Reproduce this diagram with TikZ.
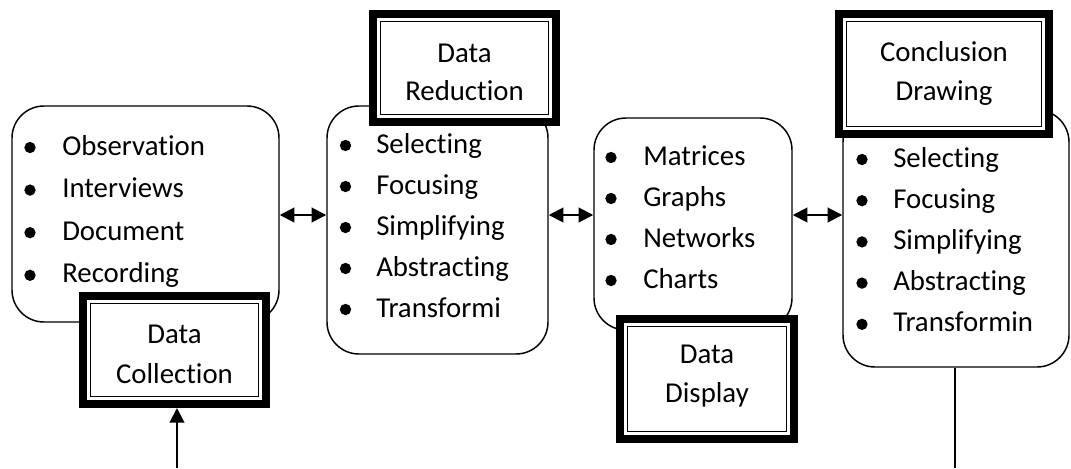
\documentclass[tikz,border=0pt]{standalone}
\usepackage{fontspec}
\setmainfont{Carlito}[Ligatures=NoCommon]
\usetikzlibrary{arrows.meta,calc}
\newcommand\itemfont{\fontsize{21.6pt}{26pt}\selectfont}
\begin{document}
\begin{tikzpicture}[x=0.75pt,y=-0.75pt,
  every node/.style={inner sep=0pt},
  listbox/.style={draw, line width=1.1pt, rounded corners=24pt, fill=white},
  stagebox/.style={draw, line width=6pt, outer sep=3pt, fill=white,
    path picture={\draw[line width=1.1pt]
      ($(path picture bounding box.south west)+(5.8pt,5.8pt)$) rectangle
      ($(path picture bounding box.north east)-(5.8pt,5.8pt)$);}},
  item/.style={font=\itemfont, anchor=base west},
  label/.style={font=\itemfont, anchor=base},
  dot/.style={circle, fill, minimum size=8.5pt},
  link/.style={line width=1.5pt, {Triangle[length=11pt,width=11pt]}-{Triangle[length=11pt,width=11pt]}},
  feed/.style={line width=1.5pt, -{Triangle[length=11pt,width=11pt]}},
  exit/.style={line width=1.1pt}
]
\useasboundingbox (0,0) rectangle (1071,468);

% rounded list boxes
\node[listbox, minimum width=200.25pt, minimum height=162pt] (collectbox) at (145.5,214) {};
\node[listbox, minimum width=165.75pt, minimum height=186pt] (reducebox) at (437.5,230) {};
\node[listbox, minimum width=148.5pt, minimum height=159pt] (displaybox) at (693,224) {};
\node[listbox, minimum width=169.5pt, minimum height=192.75pt] (concludebox) at (956,238.5) {};

% bullet lists
\foreach \t [count=\i from 0] in {Observation,Interviews,Document,Recording}{
  \node[dot] (cdot\i) at (30,{147.5+42.6*\i}) {};
  \node[item] (citem\i) at (62,{155+42.6*\i}) {\t};
}
\foreach \t [count=\i from 0] in {Selecting,Focusing,Simplifying,Abstracting,Transformi}{
  \node[dot] (rdot\i) at (345.5,{145.5+41*\i}) {};
  \node[item] (ritem\i) at (376,{153+41*\i}) {\t};
}
\foreach \t [count=\i from 0] in {Matrices,Graphs,Networks,Charts}{
  \node[dot] (ddot\i) at (611,{157.5+41*\i}) {};
  \node[item] (ditem\i) at (643,{165+41*\i}) {\t};
}
\foreach \t [count=\i from 0] in {Selecting,Focusing,Simplifying,Abstracting,Transformin}{
  \node[dot] (kdot\i) at (862,{159.5+41.2*\i}) {};
  \node[item] (kitem\i) at (893,{167+41.2*\i}) {\t};
}

% stage frames
\node[stagebox, minimum width=137.25pt, minimum height=81pt] (collect) at (174.5,350) {};
\node[label] (collectA) at (174.5,343) {Data};
\node[label] (collectB) at (174.5,383) {Collection};

\node[stagebox, minimum width=137.25pt, minimum height=81pt] (reduce) at (464.5,68) {};
\node[label] (reduceA) at (464.5,62) {Data};
\node[label] (reduceB) at (464.5,100) {Reduction};

\node[stagebox, minimum width=130.5pt, minimum height=90pt] (display) at (707,379) {};
\node[label] (displayA) at (707,363) {Data};
\node[label] (displayB) at (707,402) {Display};

\node[stagebox, minimum width=157.5pt, minimum height=90pt] (conclude) at (944,74) {};
\node[label] (concludeA) at (944,61) {Conclusion};
\node[label] (concludeB) at (944,100) {Drawing};

% connectors
\coordinate (row) at (0,215);
\draw[link] (collectbox.east |- row) -- (reducebox.west |- row);
\draw[link] (reducebox.east |- row) -- (displaybox.west |- row);
\draw[link] (displaybox.east |- row) -- (concludebox.west |- row);

\coordinate (collectIn) at (177,468);
\draw[feed] (collectIn) -- (collectIn |- collect.south);

\coordinate (concludeOut) at (955,468);
\draw[exit] (concludeOut |- concludebox.south) -- (concludeOut);
\end{tikzpicture}
\end{document}
